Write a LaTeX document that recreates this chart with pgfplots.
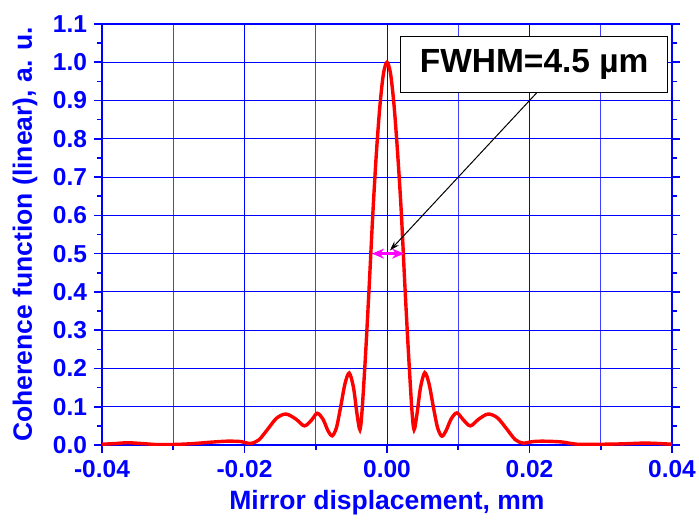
\documentclass[border=0pt]{standalone}
\usepackage{pgfplots}
\pgfplotsset{compat=1.18}
\usepackage{fontspec}
\setmainfont{Liberation Sans}
\usetikzlibrary{arrows.meta}
\definecolor{fwhmmag}{RGB}{255,0,255}

\begin{document}
\begin{tikzpicture}
\begin{axis}[
  name=ax,
  scale only axis,
  width=285bp, height=210.5bp,
  xmin=-0.04, xmax=0.04,
  ymin=0, ymax=1.1,
  xtick={-0.04,-0.02,0,0.02,0.04},
  minor x tick num=1,
  ytick={0,0.1,...,1.1},
  minor y tick num=1,
  xmajorgrids, xminorgrids, ymajorgrids,
  major grid style={blue, line width=0.5bp},
  minor grid style={blue!75, line width=0.5bp},
  axis line style={blue, line width=1bp},
  every tick/.style={blue, line width=0.8bp},
  tick align=outside,
  xtick pos=bottom, ytick pos=both,
  major tick length=4bp, minor tick length=2.5bp,
  /pgf/number format/assume math mode=true,
  xticklabel style={/pgf/number format/.cd, fixed, fixed zerofill, precision=2},
  yticklabel style={/pgf/number format/.cd, fixed, fixed zerofill, precision=1},
  ticklabel style={font=\fontsize{12.3}{14}\selectfont\bfseries, text=blue},
  scaled x ticks=false,
  xlabel={Mirror displacement, mm},
  ylabel={Coherence function (linear), a. u.},
  label style={font=\fontsize{13.3}{16}\selectfont\bfseries, text=blue},
  xlabel style={at={(axis description cs:0.5,-0.138)}, anchor=center},
  ylabel style={at={(axis description cs:-0.135,0.5)}, anchor=center},
]
\addplot[red, line width=1.7bp, smooth] coordinates {
(-0.0400,0.002) (-0.0380,0.004) (-0.0365,0.006) (-0.0345,0.004)
(-0.0320,0.001) (-0.0290,0.002) (-0.0270,0.004) (-0.0250,0.007)
(-0.0225,0.010) (-0.0205,0.009) (-0.0192,0.004) (-0.0180,0.013)
(-0.0168,0.040) (-0.0155,0.070) (-0.0142,0.081) (-0.0128,0.068)
(-0.0116,0.050) (-0.0106,0.065) (-0.0098,0.083) (-0.0090,0.068)
(-0.0083,0.038) (-0.0077,0.024) (-0.0071,0.045) (-0.0065,0.100)
(-0.0059,0.160) (-0.0053,0.188) (-0.0047,0.150) (-0.0042,0.080)
(-0.0038,0.040) (-0.0035,0.090) (-0.0030,0.240) (-0.0025,0.415)
(-0.0020,0.600) (-0.0015,0.760) (-0.0010,0.885) (-0.0005,0.970)
(0.0000,1.000)
(0.0005,0.970) (0.0010,0.885) (0.0015,0.760) (0.0020,0.610)
(0.0025,0.420) (0.0030,0.245) (0.0035,0.090) (0.0038,0.040)
(0.0042,0.080) (0.0047,0.150) (0.0053,0.189) (0.0059,0.160)
(0.0065,0.100) (0.0071,0.045) (0.0077,0.023) (0.0083,0.038)
(0.0090,0.068) (0.0098,0.084) (0.0107,0.066) (0.0117,0.050)
(0.0129,0.068) (0.0142,0.081) (0.0155,0.071) (0.0168,0.042)
(0.0180,0.014) (0.0191,0.005) (0.0205,0.009) (0.0220,0.010)
(0.0245,0.008) (0.0267,0.002) (0.0300,0.002) (0.0330,0.003)
(0.0360,0.005) (0.0380,0.004) (0.0400,0.002)
};
\draw[fwhmmag, line width=1.3bp, {Stealth[length=6bp,width=5bp]}-{Stealth[length=6bp,width=5bp]}]
  (axis cs:-0.0021,0.5) -- (axis cs:0.0024,0.5);
\draw[black, line width=0.5bp, -{Stealth[length=5bp,width=3bp]}]
  (axis cs:0.0212,0.924) -- (axis cs:0.0004,0.508);
\draw[black, line width=0.6bp, fill=white]
  (axis cs:0.0019,0.922) rectangle (axis cs:0.0394,1.068);
\node[font=\fontsize{16.8}{20}\selectfont\bfseries, text=black]
  at (axis cs:0.02065,0.995) {FWHM=4.5 µm};
\end{axis}
\pgfresetboundingbox
\path ([shift={(-51bp,-38.5bp)}]ax.south west) rectangle ([shift={(13.5bp,12bp)}]ax.north east);
\end{tikzpicture}
\end{document}
